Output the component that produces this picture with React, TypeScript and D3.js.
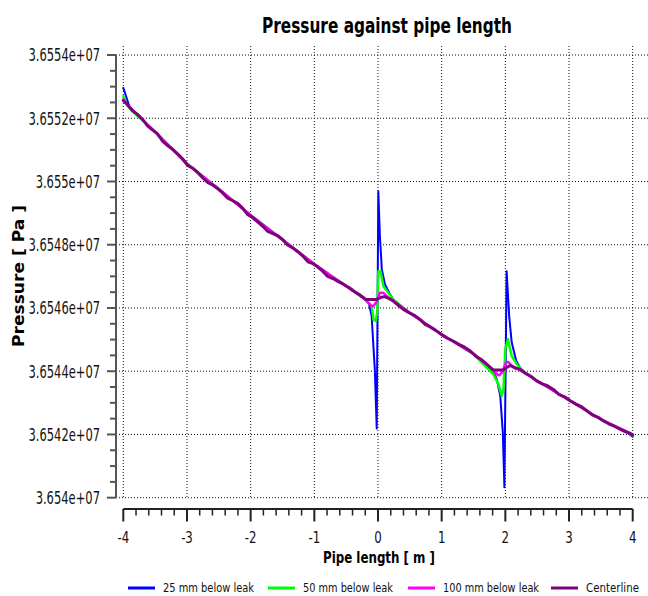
import React from "react";
import * as d3 from "d3";

type P = [number, number];

const xTicks = [-4, -3, -2, -1, 0, 1, 2, 3, 4];
const xTickLabels = ["-4", "-3", "-2", "-1", "0", "1", "2", "3", "4"];
const yTicks = [36540000, 36542000, 36544000, 36546000, 36548000, 36550000, 36552000, 36554000];
const yTickLabels = ["3.654e+07", "3.6542e+07", "3.6544e+07", "3.6546e+07", "3.6548e+07", "3.655e+07", "3.6552e+07", "3.6554e+07"];

const seriesNames = ["25 mm below leak", "50 mm below leak", "100 mm below leak", "Centerline"];

const blue25: P[] = [
  [-4.0, 36552960], [-3.96, 36552720], [-3.9, 36552340], [-3.5, 36551570], [-3.0, 36550560],
  [-2.5, 36549750], [-2.0, 36548930], [-1.5, 36548170], [-1.0, 36547380], [-0.5, 36546700],
  [-0.2, 36546270], [-0.14, 36546120], [-0.1, 36545745], [-0.05, 36544060], [-0.02, 36542190],
  [0.005, 36549690], [0.03, 36548270], [0.06, 36547220], [0.11, 36546740], [0.19, 36546430],
  [0.26, 36546190], [0.5, 36545830], [1.0, 36545160], [1.5, 36544550], [1.8, 36544050],
  [1.865, 36543750], [1.92, 36543220], [1.96, 36542070], [1.985, 36540330], [2.02, 36547165],
  [2.06, 36545745], [2.1, 36544905], [2.17, 36544330], [2.24, 36544080], [2.35, 36543890],
  [2.5, 36543690], [3.0, 36543090], [3.5, 36542470], [3.9, 36542090], [4.0, 36541930],
];

const green50: P[] = [
  [-4.0, 36552700], [-3.95, 36552450], [-3.88, 36552260], [-3.5, 36551580], [-3.0, 36550570],
  [-2.5, 36549760], [-2.0, 36548940], [-1.5, 36548160], [-1.0, 36547390], [-0.5, 36546690],
  [-0.2, 36546270], [-0.1, 36546060], [-0.07, 36545620], [-0.035, 36545590], [-0.01, 36545900],
  [0.005, 36547165], [0.04, 36547165], [0.085, 36546690], [0.16, 36546480], [0.24, 36546270],
  [0.5, 36545840], [1.0, 36545170], [1.5, 36544540], [1.81, 36543910], [1.89, 36543590],
  [1.943, 36543220], [1.97, 36543400], [2.0, 36544700], [2.04, 36545010], [2.1, 36544480],
  [2.18, 36544220], [2.3, 36543960], [2.5, 36543700], [3.0, 36543080], [3.5, 36542480],
  [3.9, 36542100], [4.0, 36541980],
];

const magenta100: P[] = [
  [-4.0, 36552600], [-3.92, 36552380], [-3.5, 36551560], [-3.0, 36550550], [-2.5, 36549760],
  [-2.0, 36548930], [-1.5, 36548160], [-1.0, 36547390], [-0.5, 36546690], [-0.23, 36546325],
  [-0.1, 36546060], [-0.07, 36546060], [-0.02, 36546200], [0.03, 36546480], [0.085, 36546480],
  [0.16, 36546325], [0.24, 36546230], [0.5, 36545840], [1.0, 36545170], [1.5, 36544550],
  [1.8, 36544060], [1.87, 36543900], [1.905, 36543870], [1.95, 36543960], [2.01, 36544280],
  [2.047, 36544290], [2.1, 36544180], [2.2, 36544070], [2.5, 36543700], [3.0, 36543080],
  [3.5, 36542480], [3.9, 36542100], [4.0, 36541990],
];

const centerline: P[] = [
  [-4.0, 36552560], [-3.93, 36552420], [-3.85, 36552230], [-3.78, 36552130], [-3.7, 36551970],
  [-3.62, 36551760], [-3.55, 36551640], [-3.47, 36551520], [-3.38, 36551270], [-3.3, 36551130],
  [-3.22, 36551010], [-3.14, 36550860], [-3.07, 36550720], [-2.99, 36550510], [-2.91, 36550420],
  [-2.83, 36550280], [-2.75, 36550110], [-2.67, 36549960], [-2.59, 36549880], [-2.51, 36549760],
  [-2.44, 36549640], [-2.36, 36549470], [-2.28, 36549390], [-2.2, 36549300], [-2.13, 36549165],
  [-2.05, 36548960], [-1.97, 36548860], [-1.89, 36548720], [-1.81, 36548585], [-1.73, 36548420],
  [-1.66, 36548360], [-1.58, 36548290], [-1.5, 36548165], [-1.42, 36547990], [-1.34, 36547900],
  [-1.26, 36547780], [-1.18, 36547640], [-1.1, 36547460], [-1.02, 36547400], [-0.95, 36547300],
  [-0.87, 36547165], [-0.79, 36547000], [-0.71, 36546930], [-0.63, 36546840], [-0.55, 36546760],
  [-0.45, 36546640], [-0.37, 36546520], [-0.29, 36546420], [-0.19, 36546270], [-0.1, 36546270],
  [-0.02, 36546270], [0.04, 36546330], [0.1, 36546360], [0.17, 36546300], [0.24, 36546220],
  [0.32, 36546080], [0.4, 36545955], [0.48, 36545860], [0.57, 36545770], [0.66, 36545640],
  [0.74, 36545480], [0.82, 36545400], [0.9, 36545300], [0.99, 36545170], [1.08, 36545050],
  [1.18, 36544955], [1.27, 36544850], [1.36, 36544760], [1.45, 36544640], [1.54, 36544470],
  [1.62, 36544370], [1.71, 36544220], [1.8, 36544050], [1.88, 36544040], [1.97, 36544050],
  [2.03, 36544130], [2.08, 36544180], [2.15, 36544100], [2.23, 36544060], [2.32, 36543930],
  [2.4, 36543840], [2.49, 36543695], [2.58, 36543600], [2.66, 36543540], [2.75, 36543430],
  [2.84, 36543270], [2.93, 36543190], [3.02, 36543065], [3.11, 36542960], [3.2, 36542870],
  [3.28, 36542750], [3.37, 36542610], [3.45, 36542550], [3.54, 36542430], [3.63, 36542330],
  [3.71, 36542260], [3.8, 36542170], [3.88, 36542090], [3.95, 36542040], [4.0, 36541990],
];

const seriesData = [blue25, green50, magenta100, centerline];
const seriesColors = ["#0000ff", "#00ff00", "#ff00ff", "#800080"];
const seriesWidths = [2, 2.5, 2.5, 3];

const FONT = "'DejaVu Sans Condensed', 'DejaVu Sans', sans-serif";

export default function App() {
  const W = 648, H = 596;
  const x = d3.scaleLinear().domain([-4, 4]).range([123.3, 632.7]);
  const y = d3.scaleLinear().domain([36540000, 36554000]).range([497.7, 55]);
  const line = d3.line<P>().x(d => x(d[0])).y(d => y(d[1]));

  const yAxisX = 116;
  const xAxisY = 509;
  const xMinor = d3.range(-4, 4.0001, 0.2).filter(v => Math.abs(v - Math.round(v)) > 1e-6);
  const yMinor = d3.range(36540000, 36554001, 500).filter(v => v % 2000 !== 0);

  const legendX = [128, 268, 408, 551];
  const legendTextW = [91, 90, 96, 53];

  return (
    <svg width={W} height={H} style={{ position: "absolute", left: 0, top: 0, background: "#fff" }}>
      <rect x={0} y={0} width={W} height={H} fill="#fff" />
      <text x={387} y={33} textAnchor="middle" fontFamily={FONT} fontWeight="bold" fontSize={22}
        textLength={250} lengthAdjust="spacingAndGlyphs" fill="#000">Pressure against pipe length</text>

      {/* grid */}
      {xTicks.map(v => (
        <line key={"gx" + v} x1={x(v)} x2={x(v)} y1={46} y2={498} stroke="#111" strokeWidth={1} strokeDasharray="1,2" />
      ))}
      {yTicks.map(v => (
        <line key={"gy" + v} x1={yAxisX} x2={W} y1={y(v)} y2={y(v)} stroke="#111" strokeWidth={1} strokeDasharray="1,2" />
      ))}

      {/* y axis */}
      <line x1={yAxisX} x2={yAxisX} y1={y(36554000)} y2={y(36540000)} stroke="#555" strokeWidth={2} />
      {yTicks.map(v => (
        <line key={"yt" + v} x1={107} x2={yAxisX} y1={y(v)} y2={y(v)} stroke="#555" strokeWidth={2} />
      ))}
      {yMinor.map(v => (
        <line key={"ym" + v} x1={110} x2={yAxisX} y1={y(v)} y2={y(v)} stroke="#555" strokeWidth={2} />
      ))}
      {yTicks.map((v, i) => (
        <text key={"yl" + v} x={100} y={y(v) + 6.3} textAnchor="end" fontFamily={FONT} fontSize={17}
          textLength={yTickLabels[i].length * 7.15} lengthAdjust="spacingAndGlyphs" fill="#111">{yTickLabels[i]}</text>
      ))}

      {/* x axis */}
      <line x1={x(-4)} x2={x(4)} y1={xAxisY} y2={xAxisY} stroke="#222" strokeWidth={2} />
      {xTicks.map(v => (
        <line key={"xt" + v} x1={x(v)} x2={x(v)} y1={xAxisY} y2={521.5} stroke="#222" strokeWidth={2} />
      ))}
      {xMinor.map(v => (
        <line key={"xm" + v.toFixed(2)} x1={x(v)} x2={x(v)} y1={xAxisY} y2={515.5} stroke="#222" strokeWidth={1.5} />
      ))}
      {xTicks.map((v, i) => (
        <text key={"xl" + v} x={x(v)} y={542.5} textAnchor="middle" fontFamily={FONT} fontSize={16}
          textLength={xTickLabels[i].length === 1 ? 7.5 : 11.7} lengthAdjust="spacingAndGlyphs" fill="#111">{xTickLabels[i]}</text>
      ))}

      {/* axis titles */}
      <text x={379} y={563} textAnchor="middle" fontFamily={FONT} fontWeight="bold" fontSize={16}
        textLength={112} lengthAdjust="spacingAndGlyphs" fill="#000">Pipe length [ m ]</text>
      <text transform="translate(23.5,276) rotate(-90)" x={0} y={0} textAnchor="middle" fontFamily={FONT}
        fontWeight="bold" fontSize={15} textLength={142} lengthAdjust="spacingAndGlyphs" fill="#000">Pressure [ Pa ]</text>

      {/* series */}
      {seriesData.map((d, i) => (
        <path key={"s" + i} d={line(d) || ""} fill="none" stroke={seriesColors[i]} strokeWidth={seriesWidths[i]}
          strokeLinejoin="round" strokeLinecap="round" />
      ))}

      {/* legend */}
      {seriesNames.map((n, i) => (
        <g key={"lg" + i}>
          <line x1={legendX[i]} x2={legendX[i] + 27} y1={588} y2={588} stroke={seriesColors[i]} strokeWidth={3} />
          <text x={legendX[i] + 35} y={592} fontFamily={FONT} fontSize={13}
            textLength={legendTextW[i]} lengthAdjust="spacingAndGlyphs" fill="#111">{n}</text>
        </g>
      ))}
    </svg>
  );
}
